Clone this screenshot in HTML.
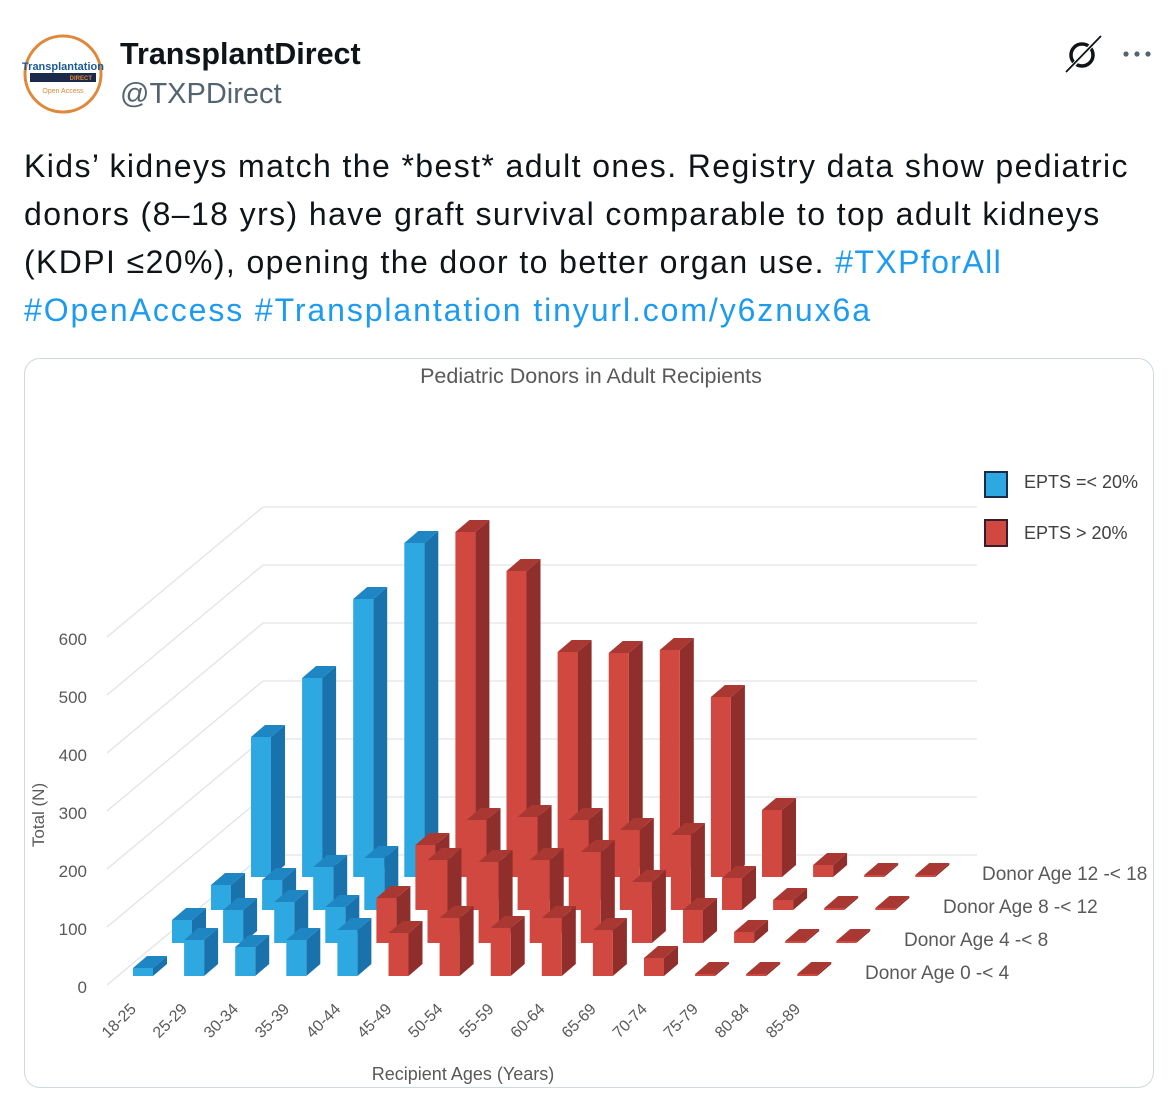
<!DOCTYPE html>
<html><head><meta charset="utf-8">
<style>
html,body{margin:0;padding:0;background:#fff;}
body{width:1172px;height:1098px;position:relative;overflow:hidden;font-family:"Liberation Sans",sans-serif;}
.name{position:absolute;left:120px;top:37px;font-size:30.5px;font-weight:bold;color:#0f1419;}
.handle{position:absolute;left:120px;top:78px;font-size:29px;color:#536471;}
.txt{position:absolute;left:24px;top:142px;font-size:32px;letter-spacing:1.4px;line-height:48px;color:#0f1419;}
.txt div{white-space:nowrap;}
.txt a{color:#1d9bf0;text-decoration:none;}
.card{position:absolute;left:24px;top:358px;width:1128px;height:728px;border:1.5px solid #cfd9de;border-radius:16px;}
svg{position:absolute;left:0;top:0;}
</style></head><body>
<svg width="1172" height="1098" viewBox="0 0 1172 1098">
  <circle cx="63" cy="74" r="38" fill="#fff" stroke="#e0883a" stroke-width="3"/>
  <text x="63" y="70" font-family="Liberation Sans" font-size="11" font-weight="bold" fill="#1b5a9a" text-anchor="middle">Transplantation</text>
  <rect x="30" y="73" width="66" height="9" fill="#1b2a4a"/>
  <text x="92" y="80" font-family="Liberation Sans" font-size="6" font-weight="bold" fill="#e0883a" text-anchor="end">DIRECT</text>
  <text x="63" y="93" font-family="Liberation Sans" font-size="7" fill="#e0883a" text-anchor="middle">Open Access</text>
  <circle cx="1082" cy="55" r="11" fill="none" stroke="#0f1419" stroke-width="3.5"/>
  <line x1="1068" y1="71" x2="1100" y2="36" stroke="#fff" stroke-width="4"/>
  <line x1="1066" y1="72" x2="1101" y2="36" stroke="#0f1419" stroke-width="1.8"/>
  <circle cx="1126" cy="54" r="2.6" fill="#536471"/><circle cx="1137" cy="54" r="2.6" fill="#536471"/><circle cx="1148" cy="54" r="2.6" fill="#536471"/>
</svg>
<div class="name">TransplantDirect</div>
<div class="handle">@TXPDirect</div>
<div class="txt">
<div>Kids’ kidneys match the *best* adult ones. Registry data show pediatric</div>
<div>donors (8–18 yrs) have graft survival comparable to top adult kidneys</div>
<div>(KDPI ≤20%), opening the door to better organ use. <a>#TXPforAll</a></div>
<div style="letter-spacing:1.9px"><a>#OpenAccess</a> <a>#Transplantation</a> <a>tinyurl.com/y6znux6a</a></div>
</div>
<div class="card"></div>
<svg id="ch" width="1172" height="1098" viewBox="0 0 1172 1098" font-family="Liberation Sans, sans-serif">
  <text x="591" y="383" font-size="21.5" fill="#595959" text-anchor="middle">Pediatric Donors in Adult Recipients</text>
  <g id="grid" stroke="#e3e3e3" stroke-width="1.3" fill="none"></g>
  <g font-size="17" fill="#595959" text-anchor="end">
    <text x="87" y="645">600</text><text x="87" y="703">500</text><text x="87" y="761">400</text>
    <text x="87" y="819">300</text><text x="87" y="877">200</text><text x="87" y="935">100</text><text x="87" y="993">0</text>
  </g>
  <text transform="translate(44,815) rotate(-90)" font-size="17" fill="#595959" text-anchor="middle">Total (N)</text>
  <g id="bars"></g>
  <rect x="985" y="472" width="22" height="25" fill="#2ea8e0" stroke="#1d2c4a" stroke-width="2"/>
  <rect x="985" y="520" width="22" height="26" fill="#d04840" stroke="#3a1d2a" stroke-width="2"/>
  <text x="1024" y="488" font-size="18" fill="#404040">EPTS =&lt; 20%</text>
  <text x="1024" y="539" font-size="18" fill="#404040">EPTS &gt; 20%</text>
  <g font-size="19" fill="#595959">
    <text x="982" y="880">Donor Age 12 -&lt; 18</text>
    <text x="943" y="913">Donor Age 8 -&lt; 12</text>
    <text x="904" y="946">Donor Age 4 -&lt; 8</text>
    <text x="865" y="979">Donor Age 0 -&lt; 4</text>
  </g>
  <g id="xl" font-size="16" fill="#595959" text-anchor="end"></g>
  <text x="463" y="1080" font-size="18" fill="#595959" text-anchor="middle">Recipient Ages (Years)</text>
</svg>
<script>
var NS="http://www.w3.org/2000/svg";
function el(p,n,a){var e=document.createElementNS(NS,n);for(var k in a)e.setAttribute(k,a[k]);p.appendChild(e);return e;}
var g=document.getElementById('grid');
for(var i=0;i<7;i++){var yb=855-i*58,yl=985-i*58;
 el(g,'polyline',{points:"107,"+yl+" 263,"+yb+" 977,"+yb});}
var rows=[
 {x0:251,b:877,nb:4,t:[737,678,599,543,532,571,652,653,650,697,810,865,875,875]},
 {x0:211,b:910,nb:4,t:[885,880,867,858,845,820,817,820,830,835,878,900,908,908]},
 {x0:172,b:943,nb:4,t:[920,910,902,907,898,860,862,860,852,882,910,932,941,941]},
 {x0:133,b:976,nb:5,t:[968,940,947,940,930,933,918,928,918,930,958,974,974,974]}];
var B=document.getElementById('bars'),w=20,dx=14,dy=12;
var C={b:['#2ea8e0','#1a72ad','#1f86c4'],r:['#d04840','#8f2e2a','#a93832']};
rows.forEach(function(r){r.t.forEach(function(t,i){
 var x=r.x0+i*51.1,b=r.b,c=i<r.nb?C.b:C.r;
 el(B,'polygon',{points:(x+w)+","+t+" "+(x+w+dx)+","+(t-dy)+" "+(x+w+dx)+","+(b-dy)+" "+(x+w)+","+b,fill:c[1]});
 el(B,'rect',{x:x,y:t,width:w,height:b-t,fill:c[0]});
 el(B,'polygon',{points:x+","+t+" "+(x+dx)+","+(t-dy)+" "+(x+w+dx)+","+(t-dy)+" "+(x+w)+","+t,fill:c[2]});
});});
var L=["18-25","25-29","30-34","35-39","40-44","45-49","50-54","55-59","60-64","65-69","70-74","75-79","80-84","85-89"];
var X=document.getElementById('xl');
L.forEach(function(s,i){var x=137+i*51.1,y=1010;var t=el(X,'text',{transform:"translate("+x+","+y+") rotate(-45)"});t.textContent=s;});
</script>
</body></html>
